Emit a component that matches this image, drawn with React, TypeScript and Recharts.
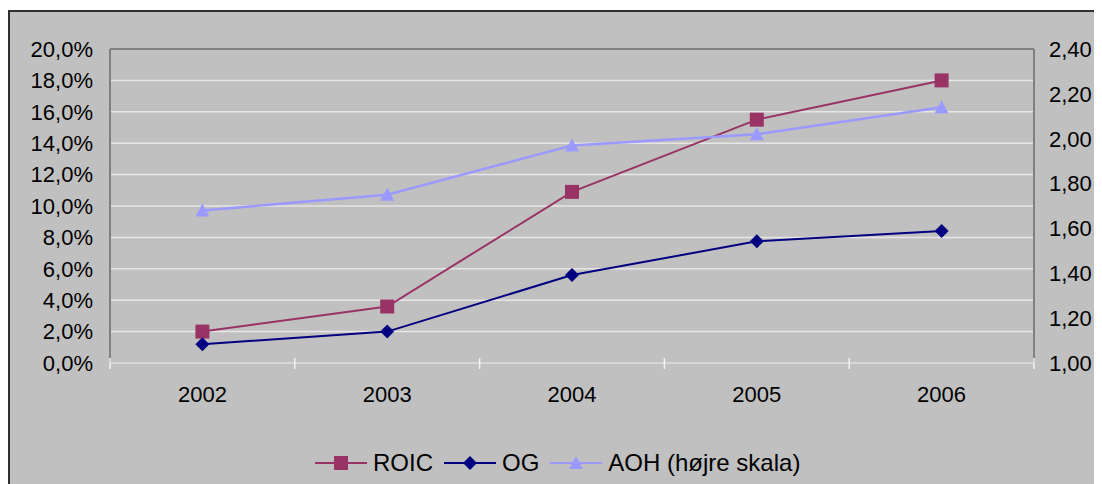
import React from "react";
import { CartesianGrid, Legend, Line, LineChart, ReferenceLine, XAxis, YAxis } from "recharts";

const years = ["2002", "2003", "2004", "2005", "2006"];
const roic = [2.0, 3.6, 10.9, 15.5, 18.0];
const og = [1.2, 2.0, 5.6, 7.75, 8.4];
const aoh = [1.68, 1.75, 1.97, 2.02, 2.14];

const leftTicks = [0, 2, 4, 6, 8, 10, 12, 14, 16, 18, 20];
const rightTicks = [1.0, 1.2, 1.4, 1.6, 1.8, 2.0, 2.2, 2.4];
const legendOrder = ["roic", "og", "aoh"];

const data = years.map((year, i) => ({ year, roic: roic[i], og: og[i], aoh: aoh[i] }));

const ROIC_COLOR = "#993366";
const OG_COLOR = "#000080";
const AOH_COLOR = "#9999FF";
const FONT = "'Liberation Sans', Arial, sans-serif";

const fmtPct = (v: number) => v.toFixed(1).replace(".", ",") + "%";
const fmtNum = (v: number) => v.toFixed(2).replace(".", ",");

function marker(kind: string, cx: number, cy: number, key?: string) {
  if (kind === "roic") {
    return <rect key={key} x={cx - 7} y={cy - 7} width={14} height={14} fill={ROIC_COLOR} />;
  }
  if (kind === "og") {
    return <polygon key={key} points={`${cx},${cy - 7} ${cx + 7},${cy} ${cx},${cy + 7} ${cx - 7},${cy}`} fill={OG_COLOR} />;
  }
  return <polygon key={key} points={`${cx},${cy - 7} ${cx + 7},${cy + 6} ${cx - 7},${cy + 6}`} fill={AOH_COLOR} />;
}

const dotFor = (kind: string) => (p: any) => {
  if (p.cx == null || p.cy == null) return <g key={p.key} />;
  return marker(kind, p.cx, p.cy, p.key);
};

function YearTick(props: any) {
  const { x, y, payload, index, visibleTicksCount, width } = props;
  const band = (width ?? 924) / visibleTicksCount;
  const left = x - band / 2;
  const right = x + band / 2;
  return (
    <g>
      <line x1={left} x2={left} y1={y - 5} y2={y + 6} stroke="#F2F2F2" strokeWidth={1.5} />
      {index === visibleTicksCount - 1 && (
        <line x1={right} x2={right} y1={y - 5} y2={y + 6} stroke="#F2F2F2" strokeWidth={1.5} />
      )}
      <text x={x} y={y + 39} textAnchor="middle" fontSize={22} fill="#000" fontFamily={FONT}>
        {payload.value}
      </text>
    </g>
  );
}

function LegendContent(props: any) {
  const items = [...(props.payload || [])].sort(
    (a: any, b: any) => legendOrder.indexOf(a.dataKey) - legendOrder.indexOf(b.dataKey)
  );
  return (
    <div
      style={{
        display: "flex",
        alignItems: "center",
        height: 40,
        paddingLeft: 305,
        fontFamily: FONT,
        fontSize: 24,
        color: "#000",
        lineHeight: 1,
      }}
    >
      {items.map((entry: any, i: number) => (
        <div key={entry.dataKey} style={{ display: "flex", alignItems: "center", marginLeft: i === 0 ? 0 : 11 }}>
          <svg width={52} height={20} style={{ display: "block" }}>
            <line x1={0} x2={52} y1={10} y2={10} stroke={entry.color} strokeWidth={2} />
            {marker(entry.dataKey, 26, 10)}
          </svg>
          <span style={{ marginLeft: 6 }}>{entry.value}</span>
        </div>
      ))}
    </div>
  );
}

export default function App() {
  return (
    <>
      <style>{`body{overflow:hidden}`}</style>
      <div
        style={{
          marginTop: 2,
          width: 1092,
          height: 472,
          background: "#C0C0C0",
          borderTop: "2px solid #303030",
          borderLeft: "2px solid #303030",
          borderRight: "2px solid #303030",
        }}
      >
        <LineChart
          width={1092}
          height={472}
          data={data}
          margin={{ top: 37, right: 0, left: 0, bottom: 1 }}
          style={{ fontFamily: FONT }}
        >
          <CartesianGrid yAxisId="left" vertical={false} stroke="#E6E6E6" strokeWidth={1.5} />
          <XAxis
            dataKey="year"
            scale="band"
            height={80}
            tickSize={0}
            tickMargin={0}
            tickLine={false}
            axisLine={{ stroke: "#D6D6D6", strokeWidth: 2 }}
            tick={<YearTick />}
            interval={0}
          />
          <YAxis
            yAxisId="left"
            width={100}
            domain={[0, 20]}
            ticks={leftTicks}
            tickFormatter={fmtPct}
            tickLine={false}
            tickSize={0}
            tickMargin={17}
            axisLine={{ stroke: "#808080", strokeWidth: 2 }}
            tick={{ fontSize: 22, fill: "#000", fontFamily: FONT }}
            interval={0}
          />
          <YAxis
            yAxisId="right"
            orientation="right"
            width={68}
            domain={[1, 2.4]}
            ticks={rightTicks}
            tickFormatter={fmtNum}
            tickLine={false}
            tickSize={0}
            tickMargin={15}
            axisLine={{ stroke: "#808080", strokeWidth: 2 }}
            tick={{ fontSize: 22, fill: "#000", fontFamily: FONT }}
            interval={0}
          />
          <ReferenceLine yAxisId="left" y={20} stroke="#808080" strokeWidth={2} />
          <Legend verticalAlign="bottom" height={40} content={<LegendContent />} />
          <Line
            yAxisId="left"
            type="linear"
            dataKey="roic"
            name="ROIC"
            stroke={ROIC_COLOR}
            strokeWidth={2}
            dot={dotFor("roic")}
            activeDot={false}
            isAnimationActive={false}
          />
          <Line
            yAxisId="left"
            type="linear"
            dataKey="og"
            name="OG"
            stroke={OG_COLOR}
            strokeWidth={2}
            dot={dotFor("og")}
            activeDot={false}
            isAnimationActive={false}
          />
          <Line
            yAxisId="right"
            type="linear"
            dataKey="aoh"
            name="AOH (højre skala)"
            stroke={AOH_COLOR}
            strokeWidth={2.5}
            dot={dotFor("aoh")}
            activeDot={false}
            isAnimationActive={false}
          />
        </LineChart>
      </div>
    </>
  );
}
